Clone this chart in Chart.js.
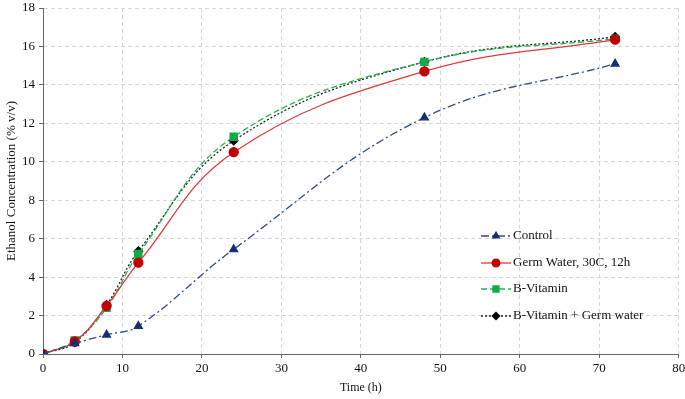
<!DOCTYPE html>
<html>
<head>
<meta charset="utf-8">
<script src="https://cdn.jsdelivr.net/npm/chart.js@4"></script>
<style>
  body { margin: 0; background: #fff; }
  #wrap { width: 685px; height: 399px; }
</style>
</head>
<body>
<div id="wrap"><canvas id="ethanolChart" width="685" height="399"></canvas></div>
<script>
const hours = [0, 4, 8, 12, 24, 48, 72];
const control = [0, 0.55, 1.0, 1.45, 5.45, 12.3, 15.1];
const germWater = [0, 0.65, 2.5, 4.75, 10.5, 14.7, 16.35];
const bVitamin = [0, 0.7, 2.4, 5.2, 11.3, 15.2, 16.4];
const bVitGerm = [0, 0.6, 2.55, 5.35, 11.1, 15.2, 16.5];
const seriesNames = ['Control', 'Germ Water, 30C, 12h', 'B-Vitamin', 'B-Vitamin + Germ water'];

const serif = "'Liberation Serif', 'Times New Roman', serif";
const pts = arr => arr.map((v, i) => ({ x: hours[i], y: v }));

// legend drawn inside the plot area, lower right
const insideLegend = {
    id: 'insideLegend',
    afterDraw(chart) {
        const c = chart.ctx;
        const x0 = 481, rows = [236, 263, 289, 316];
        chart.data.datasets.forEach((ds, i) => {
            const y = rows[i];
            c.save();
            c.strokeStyle = ds.borderColor;
            c.lineWidth = ds.borderWidth;
            c.setLineDash(ds.borderDash || []);
            c.beginPath();
            c.moveTo(x0, y);
            c.lineTo(x0 + 30, y);
            c.stroke();
            c.setLineDash([]);
            c.fillStyle = ds.backgroundColor;
            c.strokeStyle = ds.pointBorderColor;
            Chart.helpers.drawPoint(c, {
                pointStyle: ds.pointStyle,
                radius: ds.pointRadius * 0.85,
                borderWidth: 1
            }, x0 + 15, y);
            c.fillStyle = '#111';
            c.font = '13px ' + serif;
            c.textBaseline = 'middle';
            c.fillText(ds.label, x0 + 32, y);
            c.restore();
        });
    }
};

const ctx = document.getElementById('ethanolChart').getContext('2d');

new Chart(ctx, {
    type: 'line',
    data: {
        datasets: [{
            label: seriesNames[0],
            data: pts(control),
            borderColor: '#2F4A86',
            backgroundColor: '#14306E',
            pointBorderColor: '#14306E',
            borderWidth: 1.3,
            borderDash: [8, 3, 2, 3],
            pointStyle: 'triangle',
            pointRadius: 4.5,
            tension: 0.4
        }, {
            label: seriesNames[1],
            data: pts(germWater),
            borderColor: '#E0393A',
            backgroundColor: '#C00000',
            pointBorderColor: '#C00000',
            borderWidth: 1.3,
            pointStyle: 'circle',
            pointRadius: 4.5,
            tension: 0.4
        }, {
            label: seriesNames[2],
            data: pts(bVitamin),
            borderColor: '#22B34E',
            backgroundColor: '#14A84A',
            pointBorderColor: '#14A84A',
            borderWidth: 1.3,
            borderDash: [6, 3],
            pointStyle: 'rect',
            pointRadius: 5,
            tension: 0.4
        }, {
            label: seriesNames[3],
            data: pts(bVitGerm),
            borderColor: '#222',
            backgroundColor: '#000',
            pointBorderColor: '#000',
            borderWidth: 1.3,
            borderDash: [2, 2],
            pointStyle: 'rectRot',
            pointRadius: 4.2,
            tension: 0.4
        }]
    },
    options: {
        responsive: false,
        animation: false,
        layout: { padding: 0 },
        plugins: {
            legend: { display: false },
            tooltip: { enabled: false }
        },
        scales: {
            x: {
                type: 'linear',
                min: 0,
                max: 80,
                ticks: { stepSize: 10, color: '#111', font: { family: serif, size: 13 }, padding: 3 },
                grid: { color: '#D6D6D6', tickColor: '#666', tickLength: 4 },
                border: { color: '#666', dash: [4, 3] },
                title: { display: true, text: 'Time (h)', color: '#111', font: { family: serif, size: 12 }, padding: { top: 4 } },
                afterFit(s) { s.height = 45; s.paddingRight = 5; }
            },
            y: {
                min: 0,
                max: 18,
                ticks: { stepSize: 2, color: '#111', font: { family: serif, size: 13 }, padding: 4 },
                grid: { color: '#D6D6D6', tickColor: '#666', tickLength: 4 },
                border: { color: '#666', dash: [4, 3] },
                title: { display: true, text: 'Ethanol Concentration (% v/v)', color: '#111', font: { family: serif, size: 13 }, padding: { bottom: 0 } },
                afterFit(s) { s.width = 43; s.paddingTop = 8; }
            }
        }
    },
    plugins: [insideLegend]
});
</script>
</body>
</html>
